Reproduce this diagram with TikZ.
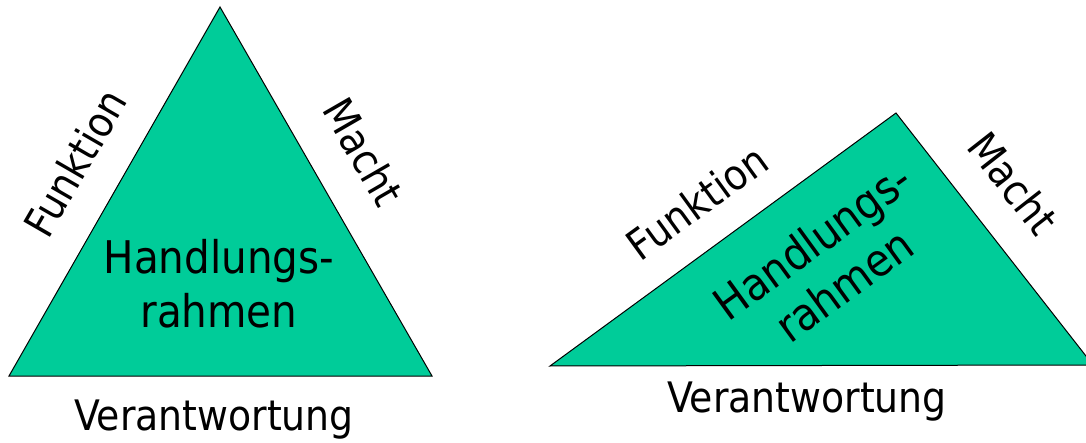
\documentclass[tikz,border=0pt]{standalone}
\usepackage{fontspec}
\setmainfont{DejaVu Sans Condensed}
\definecolor{tealfill}{HTML}{00CC99}
\tikzset{
  tri/.style={fill=tealfill, draw=black, line width=1pt, line join=miter},
  sidelabel/.style={inner sep=0pt, font=\fontsize{42}{50}\selectfont},
  innerlabel/.style={inner sep=0pt, align=center, font=\fontsize{45}{54}\selectfont},
}
\begin{document}
\begin{tikzpicture}[x=1pt,y=-1pt]
\clip (0,0) rectangle (1086,443);
% left triangle
\coordinate (LA) at (220,7);
\coordinate (LB) at (9,376);
\coordinate (LC) at (432,376);
\draw[tri] (LB) -- (LA) -- (LC) -- cycle;
\node[innerlabel] (lh) at (219,284) {Handlungs-\\rahmen};
\node[sidelabel, rotate=60] (lf) at (75,163) {Funktion};
\node[sidelabel, rotate=-60] (lm) at (364,152) {Macht};
\node[sidelabel, anchor=base] (lv) at (214,430) {Verantwortung};
% right triangle
\coordinate (RA) at (896,113);
\coordinate (RB) at (550,366);
\coordinate (RC) at (1093,365);
\draw[tri] (RB) -- (RA) -- (RC) -- cycle;
\node[innerlabel, rotate=36] (rh) at (828,263) {Handlungs-\\rahmen};
\node[sidelabel, rotate=36] (rf) at (697,202) {Funktion};
\node[sidelabel, rotate=-52] (rm) at (1013,183) {Macht};
\node[sidelabel, anchor=base] (rv) at (807,412) {Verantwortung};
\end{tikzpicture}
\end{document}
